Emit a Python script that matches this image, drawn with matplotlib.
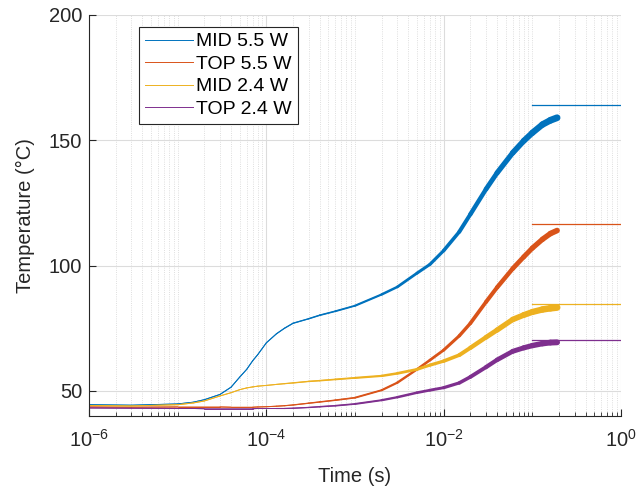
import matplotlib
matplotlib.use("Agg")
import matplotlib.pyplot as plt
import numpy as np
from matplotlib.collections import LineCollection
from matplotlib.ticker import FixedLocator, LogLocator, NullFormatter

plt.rcParams["font.family"] = ["Liberation Sans", "DejaVu Sans"]
plt.rcParams["mathtext.default"] = "regular"
plt.rcParams["axes.unicode_minus"] = False
plt.rcParams["font.size"] = 14.5
plt.rcParams["xtick.direction"] = "in"
plt.rcParams["ytick.direction"] = "in"

# time samples (s)
time = [1e-6, 3e-6, 1e-5, 1.5e-5, 2e-5, 3e-5, 4e-5, 5e-5, 6e-5, 7e-5, 8e-5,
        1e-4, 1.3e-4, 1.6e-4, 2e-4, 3e-4, 4e-4, 6e-4, 1e-3, 2e-3, 3e-3,
        5e-3, 7e-3, 1e-2, 1.5e-2, 2e-2, 3e-2, 4e-2, 6e-2, 8e-2, 0.1, 0.13,
        0.16, 0.19]

mid_55 = [44.5, 44.3, 44.8, 45.5, 46.5, 48.6, 51.5, 55.5, 58.6, 62.0, 64.5,
          69.2, 72.8, 75.0, 77.0, 78.8, 80.2, 81.8, 84.0, 88.5, 91.5,
          97.0, 100.5, 106.0, 113.5, 120.5, 130.5, 137.0, 145.0, 149.8, 153.0,
          156.3, 158.0, 159.0]
top_55 = [43.6, 43.5, 43.6, 43.6, 43.6, 43.6, 43.5, 43.5, 43.5, 43.5, 43.6,
          43.7, 43.9, 44.1, 44.4, 45.1, 45.6, 46.3, 47.3, 50.3, 53.3,
          58.6, 62.3, 66.3, 72.0, 77.0, 85.5, 91.3, 98.8, 103.5, 107.0,
          110.5, 112.8, 114.0]
mid_24 = [44.2, 44.0, 44.5, 45.2, 46.0, 48.0, 49.3, 50.5, 51.2, 51.6, 51.9,
          52.2, 52.6, 52.9, 53.2, 53.8, 54.1, 54.6, 55.2, 56.0, 57.0,
          58.6, 60.3, 61.9, 64.3, 67.2, 71.4, 74.3, 78.5, 80.3, 81.5,
          82.5, 83.0, 83.3]
top_24 = [43.2, 43.1, 43.0, 43.0, 42.9, 42.9, 42.9, 42.9, 42.9, 42.9, 43.0,
          43.0, 43.0, 43.0, 43.1, 43.4, 43.7, 44.1, 44.8, 46.3, 47.5,
          49.3, 50.3, 51.3, 53.2, 55.6, 59.5, 62.4, 65.8, 67.2, 68.1,
          68.9, 69.3, 69.4]

labels = ["MID 5.5 W", "TOP 5.5 W", "MID 2.4 W", "TOP 2.4 W"]
series = [mid_55, top_55, mid_24, top_24]
colors = ["#0072BD", "#D95319", "#EDB120", "#7E2F8E"]
noise_scale = [1.0, 0.8, 1.0, 0.85]

# steady-state levels, drawn from 0.1 s to 1 s
steady = [164.0, 116.8, 84.8, 70.2]
steady_span = [0.1, 1.0]

fig = plt.figure(figsize=(6.39, 4.93), dpi=100)
ax = fig.add_axes([0.1393, 0.1562, 0.8326, 0.8134])

lt = np.log10(time)
for vals, lab, c, k in zip(series, labels, colors, noise_scale):
    ax.plot(time, vals, color=c, lw=0.7, label=lab)
    pts = np.column_stack([time, vals])
    segs = np.stack([pts[:-1], pts[1:]], axis=1)
    mid = (lt[:-1] + lt[1:]) / 2
    widths = 0.7 + k * (np.interp(mid, [-4, -3, -2, -1, -0.7],
                                  [0.7, 1.4, 2.4, 4.4, 5.0]) - 0.7)
    lc = LineCollection(segs, colors=c, linewidths=widths, capstyle="round",
                        joinstyle="round")
    ax.add_collection(lc)

for lvl, c in zip(steady, colors):
    ax.plot(steady_span, [lvl, lvl], color=c, lw=0.9)

ax.set_xscale("log")
ax.set_xlim(1e-6, 1)
ax.set_ylim(40, 200)
ax.xaxis.set_major_locator(FixedLocator([1e-6, 1e-4, 1e-2, 1]))
ax.xaxis.set_minor_locator(LogLocator(base=10, subs=np.arange(1, 10), numticks=50))
ax.xaxis.set_minor_formatter(NullFormatter())
ax.set_yticks([50, 100, 150, 200])

ax.grid(True, which="major", color="#dcdcdc", lw=0.8)
ax.grid(True, which="minor", axis="x", color="#d4d4d4", lw=0.6, ls=":")
ax.set_axisbelow(True)

for s in ["top", "right"]:
    ax.spines[s].set_visible(False)
for s in ["left", "bottom"]:
    ax.spines[s].set_color("#262626")
    ax.spines[s].set_linewidth(0.8)
ax.tick_params(which="major", length=5, width=0.8, colors="#262626",
               labelcolor="#262626")
ax.tick_params(which="minor", length=3, width=0.6, colors="#262626")
ax.tick_params(axis="x", pad=9)
ax.tick_params(axis="y", pad=5)

ax.set_xlabel("Time (s)", color="#262626", labelpad=12)
ax.set_ylabel("Temperature (°C)", color="#262626", labelpad=10)

leg = ax.legend(loc="upper left", bbox_to_anchor=(0.094, 0.97),
                borderaxespad=0, fancybox=False, framealpha=1,
                edgecolor="#262626", handlelength=2.5, handletextpad=0.15,
                labelspacing=0.25, borderpad=0.3, fontsize=14)
leg.get_frame().set_linewidth(0.8)

fig.savefig("out.png", dpi=100)
